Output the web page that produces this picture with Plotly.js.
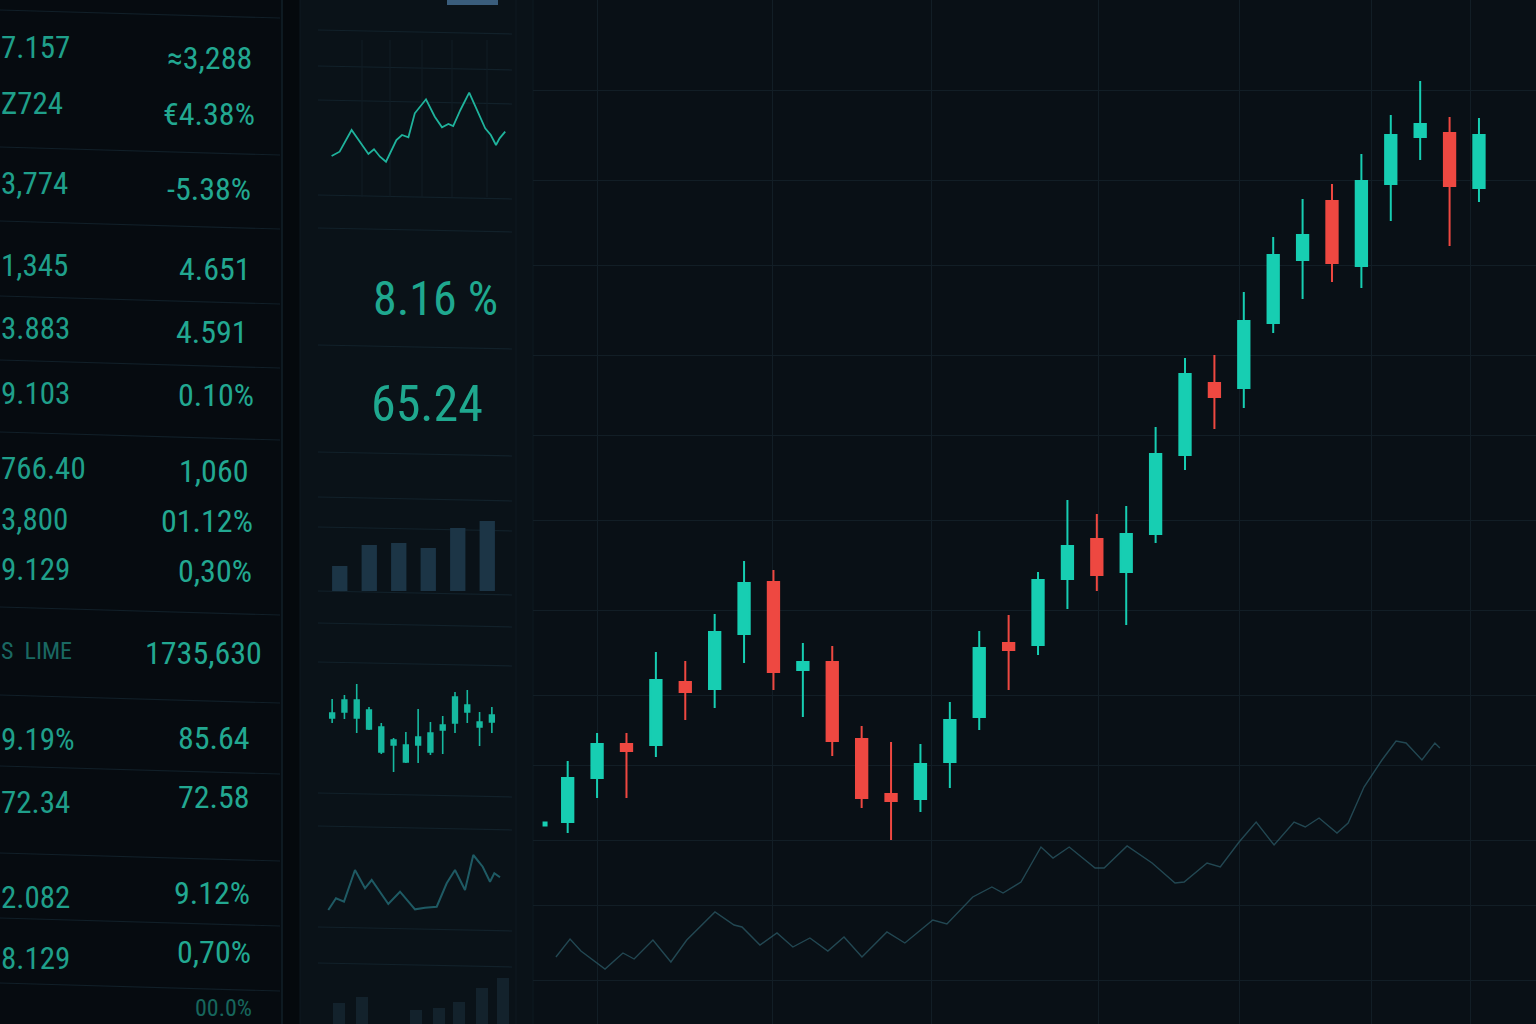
<!DOCTYPE html>
<html><head><meta charset="utf-8">
<script src="https://cdn.plot.ly/plotly-3.0.1.min.js"></script>
<style>html,body{margin:0;padding:0;background:#070c11;overflow:hidden}#chart{width:1536px;height:1024px}</style>
</head><body><div id="chart"></div>
<script>
// ---------- main candlestick series ----------
const candleX = [1,2,3,4,5,6,7,8,9,10,11,12,13,14,15,16,17,18,19,20,21,22,23,24,25,26,27,28,29,30,31,32];
const candleOpen  = [117.8,122.2,125.6,125.5,131.8,131.1,136.6,141.8,133.0,133.8,126.1,120.6,120.1,123.8,128.3,135.7,135.5,142.1,146.1,142.8,146.6,154.5,161.7,161.2,167.7,174.0,179.9,173.4,181.6,186.3,186.7,181.2];
const candleHigh  = [123.9,126.7,126.7,134.8,133.9,138.6,143.9,143.0,135.7,135.4,127.4,125.8,125.6,129.8,136.9,138.5,142.8,150.0,148.6,149.4,157.3,164.2,164.5,170.8,176.3,180.1,181.6,184.6,188.5,191.9,188.3,188.2];
const candleLow   = [116.7,120.2,120.2,124.3,128.0,129.2,133.7,131.0,128.3,124.4,119.2,116.0,118.8,121.2,127.0,131.0,134.5,139.1,140.9,137.5,145.7,153.0,157.1,159.2,166.7,170.1,171.8,171.2,177.9,184.0,175.4,179.8];
const candleClose = [122.2,125.6,124.9,132.0,130.8,136.8,141.7,132.8,133.8,125.9,120.2,119.9,123.6,128.0,135.2,135.0,142.0,145.4,142.5,146.6,154.6,162.6,160.3,167.9,174.5,176.5,173.7,181.9,186.5,187.6,181.4,186.5];
const stubX = [0.23];
const stubY = [117.6];

// faint indicator line under the candles
const lineX = [0.60,1.08,1.45,2.27,2.88,3.26,3.90,4.51,5.05,5.49,6.01,6.66,6.93,7.54,8.12,8.66,9.24,9.85,10.40,11.01,11.86,12.47,13.42,13.90,14.78,15.43,15.81,16.42,17.10,17.51,18.06,18.94,19.25,20.03,20.88,21.66,21.97,22.75,23.20,23.84,24.42,25.03,25.71,26.09,26.56,27.17,27.55,28.09,28.70,29.18,29.52,30.06,30.50,30.67];
const lineY = [104.3,106.1,104.9,103.1,104.7,104.1,106.0,103.8,106.0,107.3,108.8,107.5,107.3,105.5,106.7,105.3,106.2,104.9,106.3,104.3,106.8,105.7,108.0,107.6,110.3,111.3,110.7,111.8,115.3,114.2,115.3,113.2,113.2,115.4,113.7,111.7,111.8,113.7,113.3,115.8,117.8,115.5,117.8,117.3,118.2,116.7,117.7,121.3,124.0,125.9,125.7,124.0,125.7,125.2];

// main grid positions
const mainGridX = [2.0,7.98,13.39,19.04,23.87,28.36,31.7];
const mainGridY = [191,182,173.5,164.5,156.5,148,139,130.5,123.5,116,109.5,102];

// ---------- side widgets ----------
const sparkT = [0.2,1.2,2.7,4.8,5.5,6.25,7.0,8.3,9.0,9.8,10.6,12.0,13.1,14.0,14.8,15.4,16.3,17.4,19.4,20.1,20.75,21.2,21.9];
const sparkV = [1.4,1.83,4.0,1.6,2.07,1.33,0.83,3.0,3.5,3.27,5.67,7.07,5.33,4.27,4.6,4.4,6.0,7.73,4.17,3.5,2.5,3.17,3.83];

const volCats = [0,1,2,3,4,5];
const volVals = [25,46,48,43,63,70];

const miniX = [0,1,2,3,4,5,6,7,8,9,10,11,12,13];
const miniO = [62,68,62,51,28,35,18,35,28,50,57,68,53,58];
const miniH = [81,85,96,73,57,42,48,71,58,64,88,90,68,73];
const miniL = [57,61,47,50,26,8,17,17,25,26,47,57,34,47];
const miniC = [67,80,80,70,53,40,35,43,47,55,83,75,58,65];

const spark2T = [0.33,1.1,1.9,3.0,4.0,4.67,6.33,7.5,9.0,10.0,11.17,12.17,13.0,14.0,14.83,15.77,16.5,16.93,17.5];
const spark2V = [1.0,2.17,1.83,5.0,3.17,4.0,1.6,2.83,1.07,1.23,1.33,3.67,5.0,3.0,6.5,5.33,3.83,4.67,4.27];

const fadeBarX = [1.4,3.7,9.1,11.4,13.4,15.7,17.8];
const fadeBarV = [21,27,14,16,22,36,46];

// table texts
const colA = ["7.157","Z724","3,774","1,345","3.883","9.103","766.40","3,800","9.129","S  LIME","9.19%","72.34","2.082","8.129"];
const colB = ["≈3,288","€4.38%","-5.38%","4.651","4.591","0.10%","1,060","01.12%","0,30%","1735,630","85.64","72.58","9.12%","0,70%","00.0%"];
const bigTexts = ["8.16 %","65.24"];

// ---------- layout helpers (pixel -> paper) ----------
const W = 1536, H = 1024;
const px = x => x / W;
const py = y => 1 - y / H;

const colAY    = [47,103,183,265,328,393,468,519,569,651,739,802,897,958];
const colBEdge = [254,257,253,253,250,256,250,255,254,264,252,252,252,253,254];
const colBY    = [58,114,189,269,332,395,471,521,571,653,738,797,893,952,1008];

const TEAL = '#17ceb2', RED = '#ee4841';
const FONT = 'Liberation Sans Narrow, Roboto Condensed, Arial Narrow, Roboto, sans-serif';

const traces = [
  {type:'candlestick', x:candleX, open:candleOpen, high:candleHigh, low:candleLow, close:candleClose,
   xaxis:'x', yaxis:'y', whiskerwidth:0,
   increasing:{line:{color:TEAL,width:2}, fillcolor:TEAL},
   decreasing:{line:{color:RED,width:2}, fillcolor:RED}, hoverinfo:'skip'},
  {type:'scatter', mode:'markers', x:stubX, y:stubY, xaxis:'x', yaxis:'y',
   marker:{symbol:'square', size:5, color:TEAL}, hoverinfo:'skip'},
  {type:'scatter', mode:'lines', x:lineX, y:lineY, xaxis:'x', yaxis:'y',
   line:{color:'rgba(45,95,108,0.7)', width:1.4}, hoverinfo:'skip'},
  {type:'scatter', mode:'lines', x:sparkT, y:sparkV, xaxis:'x2', yaxis:'y2',
   line:{color:'#1fb39c', width:1.8}, hoverinfo:'skip'},
  {type:'bar', x:volCats, y:volVals, xaxis:'x3', yaxis:'y3', width:0.52,
   marker:{color:'#1c3546'}, hoverinfo:'skip'},
  {type:'candlestick', x:miniX, open:miniO, high:miniH, low:miniL, close:miniC,
   xaxis:'x4', yaxis:'y4', whiskerwidth:0,
   increasing:{line:{color:'#16b89f',width:1.6}, fillcolor:'#16b89f'},
   decreasing:{line:{color:'#16b89f',width:1.6}, fillcolor:'#16b89f'}, hoverinfo:'skip'},
  {type:'scatter', mode:'lines', x:spark2T, y:spark2V, xaxis:'x5', yaxis:'y5',
   line:{color:'rgba(38,115,125,0.75)', width:2}, hoverinfo:'skip'},
  {type:'bar', x:fadeBarX, y:fadeBarV, xaxis:'x6', yaxis:'y6', width:1.2,
   marker:{color:'rgba(30,55,68,0.45)'}, hoverinfo:'skip'}
];

const hidden = {visible:false, fixedrange:true};
const layout = {
  width:W, height:H, margin:{l:0,r:0,t:0,b:0},
  paper_bgcolor:'#070c11', plot_bgcolor:'rgba(0,0,0,0)',
  showlegend:false, boxgap:0.45,
  xaxis:{domain:[px(533),1], range:[-0.18,33.94], tickmode:'array', tickvals:mainGridX,
         showgrid:true, gridcolor:'#121e26', gridwidth:1, showticklabels:false, ticks:'',
         zeroline:false, showline:false, rangeslider:{visible:false}, fixedrange:true},
  yaxis:{domain:[0,1], range:[97.6,200], tickmode:'array', tickvals:mainGridY,
         showgrid:true, gridcolor:'#121e26', gridwidth:1, showticklabels:false, ticks:'',
         zeroline:false, showline:false, fixedrange:true},
  xaxis2:Object.assign({domain:[px(330),px(506)], range:[0,22], anchor:'y2'}, hidden),
  yaxis2:Object.assign({domain:[py(170),py(80)], range:[0,9], anchor:'x2'}, hidden),
  xaxis3:Object.assign({domain:[px(325),px(502)], range:[-0.5,5.5], anchor:'y3'}, hidden),
  yaxis3:Object.assign({domain:[py(591),py(491)], range:[0,100], anchor:'x3'}, hidden),
  xaxis4:Object.assign({domain:[px(326),px(498)], range:[-0.5,13.5], anchor:'y4', rangeslider:{visible:false}}, hidden),
  yaxis4:Object.assign({domain:[py(780),py(680)], range:[0,100], anchor:'x4'}, hidden),
  xaxis5:Object.assign({domain:[px(325),px(505)], range:[0,18], anchor:'y5'}, hidden),
  yaxis5:Object.assign({domain:[py(920),py(840)], range:[0,8], anchor:'x5'}, hidden),
  xaxis6:Object.assign({domain:[px(325),px(515)], range:[0,19], anchor:'y6'}, hidden),
  yaxis6:Object.assign({domain:[0,py(974)], range:[0,50], anchor:'x6'}, hidden),
  shapes:[], annotations:[]
};

function rect(x0,y0,x1,y1,color){
  layout.shapes.push({type:'rect', xref:'paper', yref:'paper', x0:px(x0), x1:px(x1), y0:py(y1), y1:py(y0),
    fillcolor:color, line:{width:0}, layer:'below'});
}
function seg(x0,y0,x1,y1,color,w){
  layout.shapes.push({type:'line', xref:'paper', yref:'paper', x0:px(x0), x1:px(x1), y0:py(y0), y1:py(y1),
    line:{color:color, width:w||1}, layer:'below'});
}
// panels
rect(0,0,282,1024,'#060b10');
rect(282,0,300,1024,'#05090d');
rect(300,0,533,1024,'#0a1218');
rect(533,0,1536,1024,'#091016');
rect(447,0,498,5,'#3a5d7c');
seg(282,0,282,1024,'#122029',1.5);
seg(300,0,300,1024,'#0e1920',1);
seg(516,0,516,1024,'#0e1920',1);
seg(533,0,533,1024,'#0d171e',1.5);
// left table separators
const leftSeps = [10,147,221,296,360,432,607,695,766,853,918,983];
leftSeps.forEach(y => seg(0,y,280,y+8,'#111f28',1.2));
// middle panel separators
const midSeps = [30,66,100,195,228,345,452,497,527,591,623,662,793,826,927,963];
midSeps.forEach(y => seg(318,y,512,y+4,'#12212a',1.2));
const midVert = [362,390,422,452,487];
midVert.forEach(x => seg(x,40,x,197,'#101d25',1));

// texts
colA.forEach((t,i) => {
  const dim = t.indexOf('LIME') >= 0;
  layout.annotations.push({xref:'paper', yref:'paper', x:px(-1), y:py(colAY[i]),
    xanchor:'left', yanchor:'middle', text:t, showarrow:false,
    font:{family:FONT, size: dim ? 24 : 31, color: dim ? '#1a6862' : '#1f9f8a'}});
});
colB.forEach((t,i) => {
  const last = i === colB.length - 1;
  layout.annotations.push({xref:'paper', yref:'paper', x:px(colBEdge[i]), y:py(colBY[i]),
    xanchor:'right', yanchor:'middle', text:t, showarrow:false,
    font:{family:FONT, size: last ? 24 : 32, color: last ? '#16665c' : '#22a891'}});
});
layout.annotations.push({xref:'paper', yref:'paper', x:px(435), y:py(298), xanchor:'center', yanchor:'middle',
  text:bigTexts[0], showarrow:false, font:{family:FONT, size:48, color:'#1fa88f'}});
layout.annotations.push({xref:'paper', yref:'paper', x:px(427), y:py(404), xanchor:'center', yanchor:'middle',
  text:bigTexts[1], showarrow:false, font:{family:FONT, size:50, color:'#1fa88f'}});

Plotly.newPlot('chart', traces, layout, {staticPlot:true, displayModeBar:false});
</script></body></html>
